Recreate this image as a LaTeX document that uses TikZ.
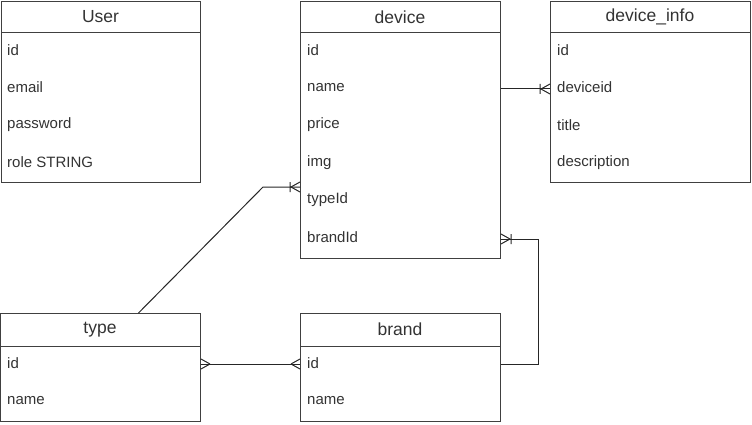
\documentclass[tikz,border=0pt]{standalone}
\usepackage{fontspec}
\setmainfont{Liberation Sans}
\begin{document}
\begin{tikzpicture}[x=1pt,y=-1pt,
 tbl/.style={draw=black!75, line width=1pt, rectangle, inner sep=0pt, anchor=north west, minimum width=200pt},
 sep/.style={draw=black!75, line width=1pt},
 hdr/.style={font=\fontsize{17.5}{20}\selectfont, text=black!80, inner sep=0pt},
 fld/.style={font=\fontsize{15}{18}\selectfont, text=black!80, anchor=west, inner sep=0pt},
 conn/.style={draw=black!85, line width=1pt},
 many/.pic={\draw[conn] (-9,0) -- (0,-5) (-9,0) -- (0,5);},
 onemany/.pic={\draw[conn] (-9,0) -- (0,-5) (-9,0) -- (0,5) (-10,-5) -- (-10,5);}
]
\useasboundingbox (0,0) rectangle (752,425);
% tables
\node[tbl, minimum width=199pt, minimum height=181pt] (user) at (1,1) {};
\node[tbl, minimum height=257pt] (dev) at (300,1) {};
\node[tbl, minimum height=181pt] (info) at (550,1) {};
\node[tbl, minimum height=107.5pt] (type) at (0,313) {};
\node[tbl, minimum height=107.5pt] (brand) at (300,313) {};
% header separators
\draw[sep] (user.west |- 0,33) -- (user.east |- 0,33);
\draw[sep] (dev.west |- 0,33) -- (dev.east |- 0,33);
\draw[sep] (info.west |- 0,33) -- (info.east |- 0,33);
\draw[sep] (type.west |- 0,346) -- (type.east |- 0,346);
\draw[sep] (brand.west |- 0,346) -- (brand.east |- 0,346);
% headers
\node[hdr] (userh) at (100.5,17) {User};
\node[hdr] (devh) at (400,17) {device};
\node[hdr] (infoh) at (650,17) {device\_info};
\node[hdr] (typeh) at (100,329.5) {type};
\node[hdr] (brandh) at (400,329.5) {brand};
% fields
\node[fld] (u1) at (7,50) {id};
\node[fld] (u2) at (7,87.5) {email};
\node[fld] (u3) at (7,125) {password};
\node[fld] (u4) at (7,162.5) {role STRING};
\node[fld] (d1) at (307,50) {id};
\node[fld] (d2) at (307,87.5) {name};
\node[fld] (d3) at (307,125) {price};
\node[fld] (d4) at (307,162.5) {img};
\node[fld] (d5) at (307,200) {typeId};
\node[fld] (d6) at (307,237.5) {brandId};
\node[fld] (i1) at (557,50) {id};
\node[fld] (i2) at (557,87.5) {deviceid};
\node[fld] (i3) at (557,125) {title};
\node[fld] (i4) at (557,162.5) {description};
\node[fld] (t1) at (7,363) {id};
\node[fld] (t2) at (7,400.5) {name};
\node[fld] (b1) at (307,363) {id};
\node[fld] (b2) at (307,400.5) {name};
% connectors
\coordinate (c1) at (dev.east |- 0,89);
\draw[conn] (c1) -- (info.west |- c1);
\pic at (info.west |- c1) {onemany};
\coordinate (k1) at (263,187);
\draw[conn] ([xshift=38pt]type.north) -- (k1) -- (dev.west |- k1);
\pic at (dev.west |- k1) {onemany};
\coordinate (c3) at (type.east |- 0,364);
\draw[conn] (c3) -- (brand.west |- c3);
\pic at (brand.west |- c3) {many};
\pic[rotate=180] at (c3) {many};
\coordinate (k2) at (538,364);
\coordinate (k3) at (538,239);
\draw[conn] (brand.east |- k2) -- (k2) -- (k3) -- (dev.east |- k3);
\pic[rotate=180] at (dev.east |- k3) {onemany};
\end{tikzpicture}
\end{document}
